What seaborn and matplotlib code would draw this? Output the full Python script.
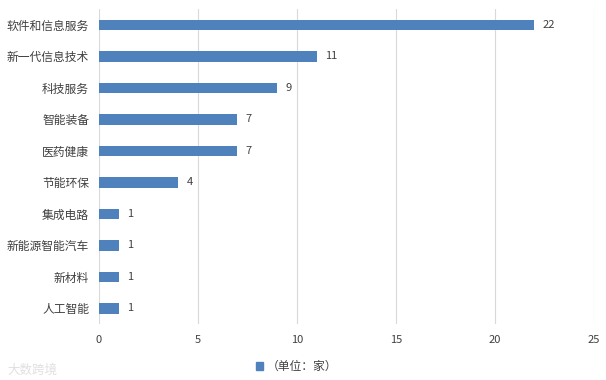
import matplotlib
matplotlib.use("Agg")
import matplotlib.pyplot as plt
import seaborn as sns
import pandas as pd
from matplotlib.patches import Patch

categories = ["软件和信息服务", "新一代信息技术", "科技服务", "智能装备", "医药健康",
              "节能环保", "集成电路", "新能源智能汽车", "新材料", "人工智能"]
values = [22, 11, 9, 7, 7, 4, 1, 1, 1, 1]
xticks = [0, 5, 10, 15, 20, 25]
legend_label = "（单位：家）"

sns.set_theme(style="white")
plt.rcParams['font.family'] = ['Noto Sans CJK SC', 'DejaVu Sans']

df = pd.DataFrame({"cat": categories, "val": values})
color = "#4F81BD"

fig = plt.figure(figsize=(6.06, 3.8), dpi=100)
ax = fig.add_axes([0.163, 0.147, 0.817, 0.829])
sns.barplot(data=df, x="val", y="cat", color=color, width=0.33, saturation=1,
            edgecolor=color, linewidth=0, ax=ax, zorder=3)

ax.set_xlim(0, 25)
ax.set_xticks(xticks)
ax.set_xticklabels([str(t) for t in xticks])
ax.grid(axis="x", color="#D9D9D9", linewidth=0.8, zorder=0)
ax.grid(axis="y", visible=False)
for s in ax.spines.values():
    s.set_visible(False)
ax.set_xlabel("")
ax.set_ylabel("")
ax.tick_params(axis="x", length=0, labelsize=8, colors="#404040", pad=8)
ax.tick_params(axis="y", length=0, labelsize=8.5, colors="#404040", pad=7)

for c in ax.containers:
    ax.bar_label(c, padding=6, fontsize=8, color="#404040")

handle = Patch(facecolor=color, edgecolor=color)
fig.legend([handle], [legend_label], loc="center", bbox_to_anchor=(0.49, 0.035),
           frameon=False, fontsize=8.5, handlelength=0.6, handleheight=0.6,
           handletextpad=0.3, labelcolor="#404040")

fig.text(0.012, 0.025, "大数跨境", fontsize=9, color="#E0E0E0", ha="left", va="center")

fig.savefig("out.png", dpi=100)
